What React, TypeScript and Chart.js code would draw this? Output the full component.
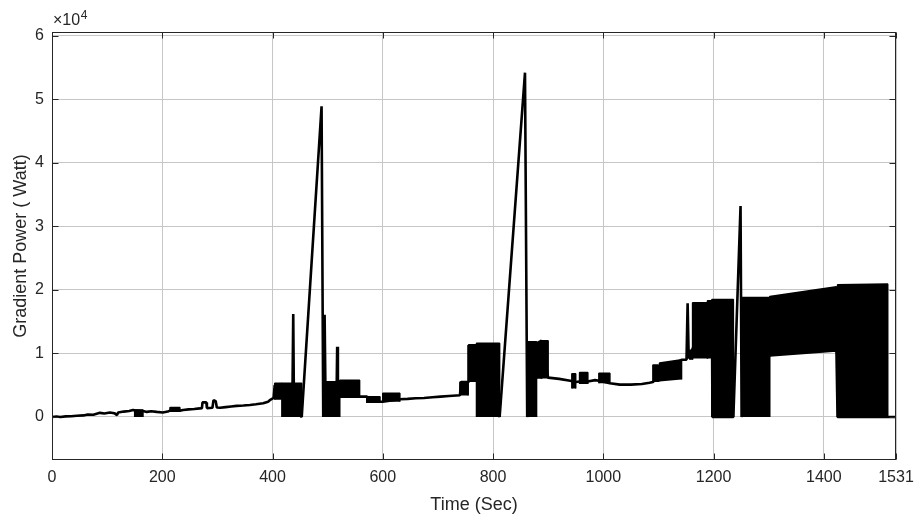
import React, { useEffect, useRef } from 'react';
import { Chart, registerables } from 'chart.js';

Chart.register(...registerables);

const FONT = '"Liberation Sans", Arial, Helvetica, sans-serif';

// Main trace (time in seconds, gradient power in watts)
const timeSec = [
  0, 8, 15, 25, 35, 45, 57, 65, 75, 87, 95, 105, 113, 118, 120, 130, 140, 147, 150,
  165, 172, 180, 190, 201, 210, 214, 232, 238, 248, 258, 268, 272, 273, 280, 281,
  291, 293, 297, 299, 305, 315, 325, 335, 347, 359, 370, 383, 392, 396, 402, 404,
  417, 436, 437.6, 439, 453, 489, 492, 494.5, 496.5, 516, 517.3, 518.6, 522,
  558, 571, 595, 600, 631, 645, 660, 675, 690, 705, 720, 740, 742, 755, 756, 770,
  812, 858, 862, 879, 888, 900, 920, 940, 950, 957, 972, 985, 992, 1012, 1030,
  1050, 1070, 1084, 1090, 1100, 1142, 1151, 1153, 1155, 1197, 1198, 1236, 1249,
  1251, 1302, 1423, 1425, 1516, 1531,
];
const powerW = [
  0, 80, 0, 100, 120, 200, 250, 400, 350, 650, 550, 700, 600, 300, 700, 850, 950, 1100, 1050,
  950, 800, 900, 800, 700, 850, 1000, 1000, 1100, 1200, 1250, 1350, 1400, 2300, 2300, 1400,
  1450, 2650, 2500, 1500, 1450, 1550, 1650, 1750, 1800, 1900, 2000, 2150, 2400, 2700, 3000, 5000,
  3000, 2000, 16200, 1000, 0, 48900, 0, 16100, 500, 2000, 11070, 2000, 4000,
  3200, 3200, 2400, 2400, 2800, 2850, 2950, 3000, 3100, 3200, 3300, 3420, 5500, 5500, 11300, 11300,
  0, 54200, 0, 11600, 12000, 6200, 6000, 5700, 5500, 5600, 5600, 5800, 5700, 5300, 5100,
  5100, 5200, 5400, 5500, 6500, 9000, 9000, 17900, 9200, 18300, 0, 0, 33200,
  0, 18800, 10260, 0, 0, 0,
];

// Densely oscillating stretches, drawn as filled envelopes (low..high)
const bandStartSec = [150, 214, 404, 417, 492, 522, 571, 600, 740, 755, 770, 862, 879, 888, 943, 957, 992, 1090, 1102, 1157, 1162, 1189, 1197, 1251, 1302, 1425];
const bandEndSec = [165, 232, 417, 453, 522, 558, 595, 631, 755, 770, 812, 879, 888, 900, 950, 972, 1012, 1100, 1142, 1162, 1189, 1197, 1236, 1302, 1423, 1516];
const bandLowStartW = [0, 850, 2700, 0, 0, 3000, 2200, 2400, 3400, 5500, 0, 0, 6000, 6050, 4500, 5200, 5300, 5500, 5600, 9000, 9200, 9200, 0, 0, 9470, 0];
const bandLowEndW = [0, 850, 2700, 0, 0, 3000, 2200, 2400, 3400, 5500, 0, 0, 6000, 6050, 4500, 5200, 5300, 5500, 5900, 9000, 9200, 9200, 0, 0, 10260, 0];
const bandHighStartW = [1100, 1500, 5300, 5300, 5560, 5800, 3200, 3730, 5500, 11300, 11600, 11840, 11700, 12000, 6800, 7000, 6900, 8200, 8500, 10500, 18000, 18300, 18500, 18800, 18950, 20800];
const bandHighEndW = [1100, 1500, 5300, 5300, 5560, 5800, 3200, 3730, 5500, 11300, 11600, 11840, 11700, 12000, 6800, 7000, 6900, 8200, 9000, 10500, 18000, 18300, 18500, 18800, 20500, 20950];

const xTickValues = [0, 200, 400, 600, 800, 1000, 1200, 1400, 1531];
const yTickValues = [0, 10000, 20000, 30000, 40000, 50000, 60000];

const X_MIN = 0;
const X_MAX = 1531;
const Y_MIN = -6770;
const Y_MAX = 60600;

const AXIS_COLOR = '#262626';
const GRID_COLOR = '#c6c6c6';

const boxPlugin = {
  id: 'matlabBox',
  afterDraw(chart: any) {
    const { ctx, chartArea: a, scales } = chart;
    const l = Math.round(a.left) + 0.5;
    const r = Math.round(a.right) - 0.5;
    const t = Math.round(a.top) + 0.5;
    const b = Math.round(a.bottom) - 0.5;
    ctx.save();
    ctx.strokeStyle = AXIS_COLOR;
    ctx.lineWidth = 1;
    ctx.strokeRect(l, t, r - l, b - t);
    const tk = 6;
    ctx.beginPath();
    for (const v of xTickValues) {
      const x = Math.round(scales.x.getPixelForValue(v)) + 0.5;
      ctx.moveTo(x, b);
      ctx.lineTo(x, b - tk);
      ctx.moveTo(x, t);
      ctx.lineTo(x, t + tk);
    }
    for (const v of yTickValues) {
      const y = Math.round(scales.y.getPixelForValue(v)) + 0.5;
      ctx.moveTo(l, y);
      ctx.lineTo(l + tk, y);
      ctx.moveTo(r, y);
      ctx.lineTo(r - tk, y);
    }
    ctx.stroke();
    // exponent label
    ctx.fillStyle = AXIS_COLOR;
    ctx.textBaseline = 'alphabetic';
    ctx.textAlign = 'left';
    ctx.font = `16px ${FONT}`;
    const base = '\u00d710';
    ctx.fillText(base, a.left + 1, a.top - 7);
    const w = ctx.measureText(base).width;
    ctx.font = `12px ${FONT}`;
    ctx.fillText('4', a.left + 1 + w + 0.5, a.top - 13);
    ctx.restore();
  },
};

export default function App() {
  const ref = useRef<HTMLCanvasElement | null>(null);

  useEffect(() => {
    if (!ref.current) return;
    const bandSets = bandStartSec.map((s, i) => ({
      data: [
        { x: s, y: bandLowStartW[i] },
        { x: s, y: bandHighStartW[i] },
        { x: bandEndSec[i], y: bandHighEndW[i] },
        { x: bandEndSec[i], y: bandLowEndW[i] },
      ],
      borderColor: '#000000',
      backgroundColor: '#000000',
      borderWidth: 1.5,
      borderJoinStyle: 'bevel',
      pointRadius: 0,
      tension: 0,
      fill: 'shape',
    }));
    const mainSet = {
      data: timeSec.map((t, i) => ({ x: t, y: powerW[i] })),
      borderColor: '#000000',
      backgroundColor: '#000000',
      borderWidth: 2.6,
      pointRadius: 0,
      tension: 0,
      fill: false,
      borderJoinStyle: 'bevel',
    };
    const chart = new Chart(ref.current, {
      type: 'line',
      data: { datasets: [...bandSets, mainSet] as any },
      options: {
        animation: false,
        responsive: false,
        devicePixelRatio: 1,
        parsing: false as any,
        normalized: true,
        layout: { padding: { top: 32, right: 21, left: 0, bottom: 0 } },
        plugins: {
          legend: { display: false },
          tooltip: { enabled: false },
        },
        scales: {
          x: {
            type: 'linear',
            min: X_MIN,
            max: X_MAX,
            afterBuildTicks: (scale: any) => {
              scale.ticks = xTickValues.map((v) => ({ value: v }));
            },
            afterFit: (scale: any) => {
              scale.height = 56;
              scale.paddingLeft = 0;
              scale.paddingRight = 0;
            },
            grid: { color: GRID_COLOR, lineWidth: 1, drawTicks: false },
            border: { display: false },
            ticks: {
              color: AXIS_COLOR,
              font: { family: FONT, size: 16 },
              padding: 8,
              maxRotation: 0,
              autoSkip: false,
              callback: (v: any) => String(v),
            },
            title: {
              display: true,
              text: 'Time (Sec)',
              color: AXIS_COLOR,
              font: { family: FONT, size: 18 },
              padding: { top: 0, bottom: 0 },
            },
          },
          y: {
            type: 'linear',
            min: Y_MIN,
            max: Y_MAX,
            afterBuildTicks: (scale: any) => {
              scale.ticks = yTickValues.map((v) => ({ value: v }));
            },
            afterFit: (scale: any) => {
              scale.width = 52;
              scale.paddingTop = 0;
              scale.paddingBottom = 0;
            },
            grid: { color: GRID_COLOR, lineWidth: 1, drawTicks: false },
            border: { display: false },
            ticks: {
              color: AXIS_COLOR,
              font: { family: FONT, size: 16 },
              padding: 8,
              autoSkip: false,
              callback: (v: any) => String(Math.round(Number(v) / 10000)),
            },
            title: {
              display: true,
              text: 'Gradient Power ( Watt)',
              color: AXIS_COLOR,
              font: { family: FONT, size: 18 },
              padding: { top: 10, bottom: 0 },
            },
          },
        },
      },
      plugins: [boxPlugin],
    });
    return () => chart.destroy();
  }, []);

  return (
    <div style={{ position: 'absolute', left: 0, top: 0, width: 917, height: 516, background: '#ffffff' }}>
      <canvas ref={ref} width={917} height={516} />
    </div>
  );
}
